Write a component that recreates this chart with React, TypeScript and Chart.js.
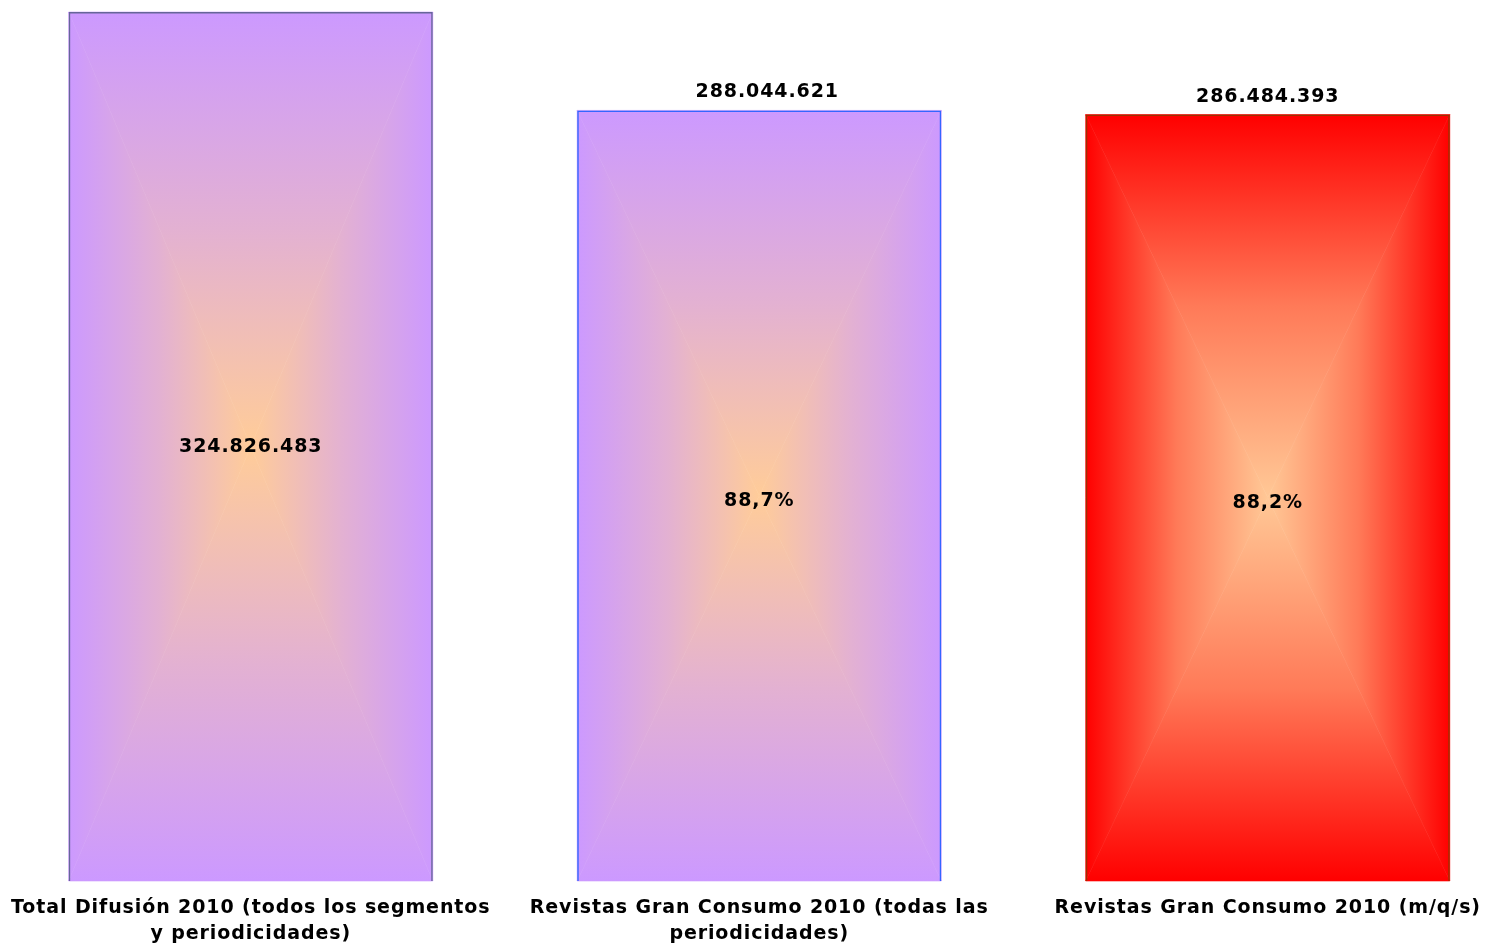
import React, { useEffect, useRef } from "react";
import { Chart, registerables } from "chart.js";

Chart.register(...registerables);

const categories: string[][] = [
  ["Total Difusión 2010 (todos los segmentos", "y periodicidades)"],
  ["Revistas Gran Consumo 2010 (todas las", "periodicidades)"],
  ["Revistas Gran Consumo 2010 (m/q/s)"],
];
const values: number[] = [324826483, 288044621, 286484393];
const valueLabels: string[] = ["324.826.483", "288.044.621", "286.484.393"];
const percentLabels: string[] = ["", "88,7%", "88,2%"];
const edgeColors: string[] = ["#CC99FF", "#CC99FF", "#FF0000"];
const midColors: string[] = ["#E3B1D2", "#E3B1D2", "#FF7A58"];
const centerColors: string[] = ["#FFCC99", "#FFCC99", "#FFC896"];
const borderColors: string[] = ["#666699", "#3366FF", "#993300"];

const FONT = "'DejaVu Sans', Verdana, sans-serif";
const SPACING = "0.9px";

const setSpacing = (chart: any) => {
  const ctx = chart.ctx as any;
  if (ctx) ctx.letterSpacing = SPACING;
};

const rectGradientPlugin = {
  id: "rectGradient",
  beforeUpdate(chart: any) {
    setSpacing(chart);
  },
  beforeLayout(chart: any) {
    setSpacing(chart);
  },
  beforeDraw(chart: any) {
    setSpacing(chart);
  },
  beforeDatasetsDraw(chart: any) {
    const ctx = chart.ctx as CanvasRenderingContext2D;
    const meta = chart.getDatasetMeta(0);
    meta.data.forEach((el: any, i: number) => {
      const { x, y, base, width } = el.getProps(["x", "y", "base", "width"], true);
      const l = x - width / 2;
      const r = x + width / 2;
      const t = Math.min(y, base);
      const b = Math.max(y, base);
      const cx = (l + r) / 2;
      const cy = (t + b) / 2;
      const tris: [number[][], number, number][] = [
        [[[l, t], [r, t], [cx, cy]], cx, t],
        [[[l, b], [r, b], [cx, cy]], cx, b],
        [[[l, t], [l, b], [cx, cy]], l, cy],
        [[[r, t], [r, b], [cx, cy]], r, cy],
      ];
      ctx.save();
      for (const [pts, x0, y0] of tris) {
        const g = ctx.createLinearGradient(x0, y0, cx, cy);
        g.addColorStop(0, edgeColors[i]);
        g.addColorStop(0.5, midColors[i]);
        g.addColorStop(1, centerColors[i]);
        ctx.fillStyle = g;
        ctx.beginPath();
        ctx.moveTo(pts[0][0], pts[0][1]);
        ctx.lineTo(pts[1][0], pts[1][1]);
        ctx.lineTo(pts[2][0], pts[2][1]);
        ctx.closePath();
        ctx.fill();
        ctx.strokeStyle = g;
        ctx.lineWidth = 0.6;
        ctx.stroke();
      }
      ctx.restore();
    });
  },
  afterDatasetsDraw(chart: any) {
    const ctx = chart.ctx as any;
    const meta = chart.getDatasetMeta(0);
    ctx.save();
    ctx.letterSpacing = SPACING;
    ctx.font = `bold 19px ${FONT}`;
    ctx.fillStyle = "#000000";
    ctx.textAlign = "center";
    ctx.textBaseline = "middle";
    meta.data.forEach((el: any, i: number) => {
      const { x, y, base } = el.getProps(["x", "y", "base"], true);
      const cy = (y + base) / 2;
      if (i === 0) {
        ctx.fillText(valueLabels[i], x, cy + 1);
      } else {
        ctx.fillText(valueLabels[i], x + (i === 1 ? 8 : 0), y - 18);
        ctx.fillText(percentLabels[i], x, cy + 5);
      }
    });
    ctx.restore();
  },
};

export default function App() {
  const ref = useRef<HTMLCanvasElement>(null);
  useEffect(() => {
    if (!ref.current) return;
    const chart = new Chart(ref.current, {
      type: "bar",
      data: {
        labels: categories,
        datasets: [
          {
            data: values,
            backgroundColor: "rgba(0,0,0,0)",
            borderColor: borderColors,
            borderWidth: 1.5,
            barPercentage: 0.716,
            categoryPercentage: 1,
          },
        ],
      },
      options: {
        responsive: false,
        animation: false,
        layout: { padding: { top: 12, left: 0, right: 0, bottom: 0 } },
        plugins: { legend: { display: false }, tooltip: { enabled: false } },
        scales: {
          x: {
            grid: { display: false, drawTicks: false },
            border: { display: false },
            afterFit: (s: any) => {
              s.height = 64;
            },
            ticks: {
              color: "#000000",
              font: { family: FONT, size: 19, weight: "bold", lineHeight: 1.32 },
              padding: 15,
              maxRotation: 0,
              autoSkip: false,
            },
          },
          y: {
            display: false,
            min: 0,
            max: Math.max(...values),
          },
        },
      },
      plugins: [rectGradientPlugin],
    });
    return () => chart.destroy();
  }, []);
  return (
    <div
      style={{
        position: "fixed",
        left: 0,
        top: 0,
        width: 1493,
        height: 945,
        overflow: "hidden",
        background: "#ffffff",
      }}
    >
      <canvas
        ref={ref}
        width={1526}
        height={945}
        style={{ position: "absolute", left: -4, top: 0, width: 1526, height: 945 }}
      />
    </div>
  );
}
